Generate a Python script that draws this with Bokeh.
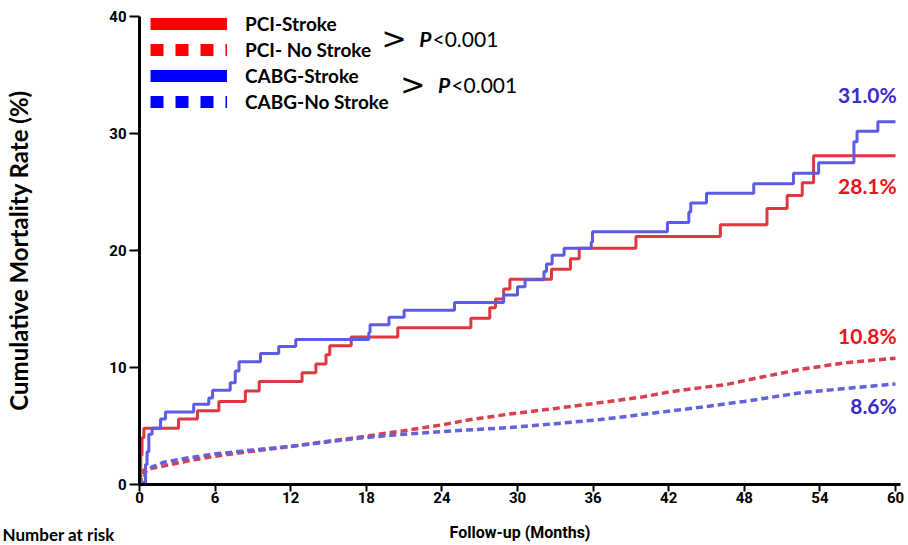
from bokeh.plotting import figure
from bokeh.models import Range1d, Legend, LegendItem, Label, FixedTicker, ColumnDataSource
from bokeh.embed import file_html
from bokeh.resources import INLINE

# ---------------- data ----------------
pci_stroke_t = [0, 0.1, 0.2, 0.35, 3.1, 4.6, 6.3, 8.4, 9.5, 12.9, 14.0, 14.8, 15.1, 16.8,
                20.5, 26.3, 27.8, 28.25, 28.9, 29.4, 32.7, 34.2, 34.9, 39.4, 46.1, 49.8,
                51.4, 52.6, 53.5, 60.0]
pci_stroke_v = [0, 2.5, 4.0, 4.8, 5.6, 6.3, 7.1, 8.0, 8.8, 9.55, 10.3, 11.1, 11.85, 12.6,
                13.4, 14.2, 15.1, 15.85, 16.7, 17.55, 18.4, 19.3, 20.2, 21.2, 22.2, 23.6,
                24.7, 25.8, 28.1, 28.1]

cabg_stroke_t = [0, 0.25, 0.48, 0.6, 0.74, 1.0, 1.67, 2.06, 4.3, 5.5, 5.8, 7.2, 7.6, 7.9,
                 9.6, 11.05, 12.4, 18.2, 18.3, 19.8, 21.0, 25.0, 28.9, 30.0, 30.6, 32.1,
                 32.3, 32.75, 33.7, 35.85, 35.95, 41.9, 43.6, 43.75, 45.0, 48.75, 51.9,
                 53.9, 56.7, 56.95, 58.6, 60.0]
cabg_stroke_v = [0, 0, 1.7, 2.8, 4.3, 4.8, 5.6, 6.2, 6.85, 7.4, 8.05, 8.7, 9.7, 10.5,
                 11.2, 11.8, 12.4, 13.0, 13.65, 14.3, 14.9, 15.55, 16.2, 16.9, 17.5, 18.2,
                 18.85, 19.6, 20.2, 20.7, 21.6, 22.4, 23.3, 24.05, 24.9, 25.7, 26.6,
                 27.5, 29.3, 30.2, 31.0, 31.0]

pci_nostroke_t = [0, 0.2, 0.35, 2, 4, 5.9, 9, 12, 15, 17.8, 21, 24, 26, 29.2, 33, 36.6,
                  40, 42, 44, 46.6, 49, 52.5, 56, 60]
pci_nostroke_v = [0, 0.9, 1.25, 1.6, 2.05, 2.4, 2.85, 3.25, 3.7, 4.1, 4.6, 5.1, 5.5, 6.0,
                  6.5, 7.0, 7.5, 7.9, 8.2, 8.55, 9.1, 9.85, 10.4, 10.8]

cabg_nostroke_t = [0, 0.25, 0.5, 1.0, 1.9, 4, 5.9, 9, 12, 15, 17.8, 21, 25, 29.2, 33,
                   36.6, 40, 44.5, 48, 52.5, 56, 60]
cabg_nostroke_v = [0, 0, 1.1, 1.5, 1.9, 2.3, 2.6, 2.95, 3.25, 3.65, 4.0, 4.3, 4.6, 4.85,
                   5.2, 5.55, 6.0, 6.6, 7.1, 7.85, 8.2, 8.6]

x_ticks = [0, 6, 12, 18, 24, 30, 36, 42, 48, 54, 60]
y_ticks = [0, 10, 20, 30, 40]

legend_labels = ["PCI-Stroke", "PCI- No Stroke", "CABG-Stroke", "CABG-No Stroke"]
end_labels = ["31.0%", "28.1%", "10.8%", "8.6%"]
p_value_text = "<0.001"
risk_heading = "Number at risk"

RED = "#e0363e"
BLUE = "#5b5be6"
RED_D = "#d8404f"
BLUE_D = "#6262dc"

TICK_FONT = "Roboto"
TEXT_FONT = "Lato"

# ---------------- figure ----------------
# The frame covers the whole canvas; the axes are pinned at x=0 / y=0 so that
# every text (legend, headings) stays inside the drawable area.
PX_X = 12.6   # pixels per month
PX_Y = 11.7   # pixels per percent
W, H = 908, 545
X0_PX, Y0_PX = 139, 484
p = figure(width=W, height=H,
           x_range=Range1d(-X0_PX / PX_X, (W - X0_PX) / PX_X),
           y_range=Range1d(-(H - Y0_PX) / PX_Y, Y0_PX / PX_Y),
           output_backend="svg", toolbar_location=None,
           min_border_left=0, min_border_right=0, min_border_top=0, min_border_bottom=0)
p.outline_line_color = None
p.grid.visible = False
p.background_fill_color = "white"

p.step(pci_stroke_t, pci_stroke_v, mode="after", line_color=RED, line_width=3)
p.step(cabg_stroke_t, cabg_stroke_v, mode="after", line_color=BLUE, line_width=3)
p.line(pci_nostroke_t, pci_nostroke_v, line_color=RED_D, line_width=3.5, line_dash="7 4")
p.line(cabg_nostroke_t, cabg_nostroke_v, line_color=BLUE_D, line_width=3.5, line_dash="7 4")

# axes
for ax in (p.xaxis[0], p.yaxis[0]):
    ax.fixed_location = 0
    ax.axis_line_color = "black"
    ax.axis_line_width = 3
    ax.major_tick_line_color = "black"
    ax.major_tick_line_width = 2
    ax.major_tick_in = 0
    ax.minor_tick_line_color = None
    ax.major_label_text_font = TICK_FONT
    ax.major_label_text_font_style = "bold"
    ax.major_label_text_font_size = "15px"
    ax.major_label_text_color = "black"

p.xaxis.bounds = (0, 60.4)
p.yaxis.bounds = (0, 40)
p.xaxis.ticker = FixedTicker(ticks=x_ticks)
p.yaxis.ticker = FixedTicker(ticks=y_ticks)
p.xaxis.major_tick_out = 7
p.yaxis.major_tick_out = 10
p.xaxis.major_label_standoff = 0
p.yaxis.major_label_standoff = 3

p.xaxis.axis_label = "Follow-up (Months)"
p.xaxis.axis_label_text_font = TICK_FONT
p.xaxis.axis_label_text_font_style = "bold"
p.xaxis.axis_label_text_font_size = "16px"
p.xaxis.axis_label_text_color = "black"
p.xaxis.axis_label_standoff = 17

p.yaxis.axis_label = "Cumulative Mortality Rate (%)"
p.yaxis.axis_label_text_font = TEXT_FONT
p.yaxis.axis_label_text_font_style = "bold"
p.yaxis.axis_label_text_font_size = "24px"
p.yaxis.axis_label_text_color = "black"
p.yaxis.axis_label_standoff = 73

# legend: proxy renderers kept outside the visible ranges
proxy = ColumnDataSource(data=dict(x=[-100, -99], y=[-100, -100]))
lr1 = p.line("x", "y", source=proxy, line_color="#ff0000", line_width=12)
lr2 = p.line("x", "y", source=proxy, line_color="#ff0000", line_width=12, line_dash="13 12")
lr3 = p.line("x", "y", source=proxy, line_color="#0000ff", line_width=12)
lr4 = p.line("x", "y", source=proxy, line_color="#0000ff", line_width=12, line_dash="13 12")
legend = Legend(items=[LegendItem(label=legend_labels[0], renderers=[lr1]),
                       LegendItem(label=legend_labels[1], renderers=[lr2]),
                       LegendItem(label=legend_labels[2], renderers=[lr3]),
                       LegendItem(label=legend_labels[3], renderers=[lr4])],
                location=(150, 432), orientation="vertical",
                glyph_width=77, glyph_height=23, label_height=20, spacing=3,
                label_standoff=18, padding=0, margin=0,
                border_line_color=None, background_fill_alpha=0,
                label_text_font=TEXT_FONT, label_text_font_style="bold",
                label_text_font_size="19px", label_text_color="black")
p.add_layout(legend, "center")

# P-value annotations
for gx, gy, px in [(20.2, 38.15, 22.2), (21.7, 34.15, 23.7)]:
    p.add_layout(Label(x=gx, y=gy, text=">", text_align="center", text_baseline="middle",
                       text_font="DejaVu Sans", text_font_size="30px", text_color="black"))
    p.add_layout(Label(x=px, y=gy, text="P", text_align="left", text_baseline="middle",
                       text_font=TEXT_FONT, text_font_style="bold italic",
                       text_font_size="21px", text_color="black"))
    p.add_layout(Label(x=px + 1.05, y=gy, text=p_value_text, text_align="left",
                       text_baseline="middle", text_font=TEXT_FONT,
                       text_font_size="21px", text_color="black"))

# end-of-curve percentages
end_pos = [(33.33, "#3a2ccc"), (25.52, "#e8141b"), (12.75, "#e8141b"), (6.73, "#3a2ccc")]
for txt, (yy, col) in zip(end_labels, end_pos):
    p.add_layout(Label(x=60.1, y=yy, text=txt, text_align="right", text_baseline="middle",
                       text_font=TEXT_FONT, text_font_style="bold",
                       text_font_size="21px", text_color=col))

# "Number at risk" heading at the bottom-left
p.add_layout(Label(x=2, y=1, x_units="screen", y_units="screen", text=risk_heading,
                   text_align="left", text_baseline="bottom", text_font=TEXT_FONT,
                   text_font_style="bold", text_font_size="17px", text_color="black"))

open("out.html", "w").write(file_html(p, INLINE))
